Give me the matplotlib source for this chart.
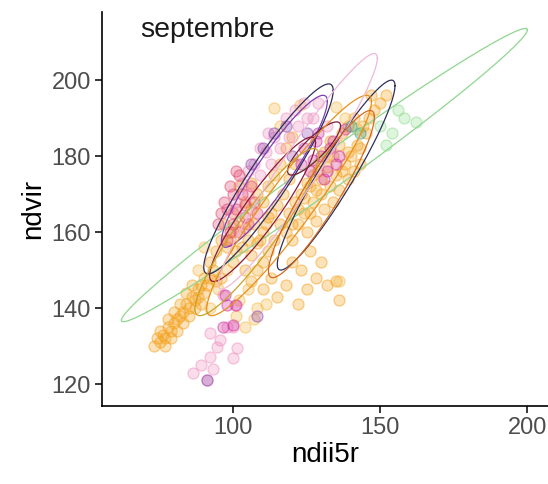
import numpy as np
import matplotlib.pyplot as plt
from matplotlib.colors import to_rgba

plt.rcParams['font.family'] = ['Liberation Sans', 'DejaVu Sans']

# points per group (ndii5r, ndvir)
orange_x = [75, 76, 77, 78, 79, 80, 81, 82, 83, 84, 85, 86, 87, 88, 89, 86, 90,
            73, 74, 75, 77, 78, 79, 80, 81, 82, 83, 84, 85, 87, 88, 89, 90, 91, 92, 93, 94,
            118, 120, 122, 124, 125, 127, 128, 130, 131, 133, 134, 135, 136, 138, 139,
            140, 142, 143, 145, 146, 148, 150, 152, 147, 126, 129, 132,
            119, 121, 123, 125, 127, 129, 131, 133, 120, 122, 124, 126, 128, 130, 132, 134,
            136, 137, 139, 141, 137, 139, 141, 143, 144,
            120, 123, 126, 128, 130, 132, 135, 136, 125, 122, 118, 115, 113, 110,
            92, 94, 96, 98, 100, 102, 104, 106, 108, 110, 112, 114, 116, 118, 120,
            104, 106, 108, 100, 96, 110, 112,
            116, 114, 112, 110, 108, 106, 117, 119, 121, 115, 113, 111, 109, 107, 105,
            103, 101, 99, 97, 102, 104, 106]
orange_y = [131, 133, 132, 135, 134, 136, 137, 138, 139, 141, 140, 143, 142, 145, 146, 146, 148,
            130, 132, 134, 130, 137, 132, 139, 134, 141, 136, 144, 138, 140, 143, 141, 144, 146, 148, 150, 147,
            160, 158, 162, 165, 160, 168, 163, 170, 166, 172, 168, 175, 171, 178, 174,
            180, 183, 178, 186, 190, 192, 194, 196, 196, 172, 176, 180,
            165, 168, 170, 173, 175, 178, 181, 184, 162, 166, 169, 165, 171, 174, 177, 180,
            183, 186, 188, 190, 176, 181, 176, 182, 188,
            152, 150, 155, 148, 152, 146, 147, 142, 145, 141, 146, 143, 148, 145,
            152, 155, 158, 156, 160, 163, 161, 166, 170, 168, 172, 175, 178, 182, 185,
            150, 154, 157, 152, 148, 160, 164,
            162, 158, 155, 152, 150, 147, 170, 174, 178, 167, 165, 162, 158, 162, 158,
            156, 155, 158, 162, 172, 168, 173]

yellow_x = [114, 122.7, 116, 135, 138, 142, 100, 98, 105, 102, 108, 95, 92, 88, 90, 101, 104, 107, 111, 136]
yellow_y = [192.6, 193.4, 188, 193, 190, 187, 165, 150, 145, 142, 140, 145, 140, 150, 156, 138, 135, 137, 141, 147]

pink_x = [86.4, 91.1, 92.1, 94.5, 95.5, 99.8, 101.3, 92.1, 97.9, 99.8, 96.6, 100.6, 89, 93,
          105, 109, 113, 116, 119, 122, 125, 100,
          103, 107, 111, 114, 118, 121, 124, 127, 129, 132, 101, 105, 109, 112]
pink_y = [122.9, 121.1, 127.1, 129.7, 131.6, 126.8, 129.5, 133.4, 135, 135, 143.4, 140.8, 125, 124,
          170, 175, 178, 182, 185, 188, 190, 165,
          173, 178, 181, 185, 190, 192, 194, 190, 194, 188, 168, 176, 182, 186]

magenta_x = [97.2, 97.9, 101, 96.5, 100, 123, 126, 130, 133, 128, 135, 131,
             124, 127, 129, 132, 134, 136, 138]
magenta_y = [143.4, 140.8, 140.8, 135, 135.5, 178, 176, 180, 182, 184, 178, 174,
             182, 179, 186, 176, 184, 180, 187]

red_x = [97, 99, 101, 103, 100, 104, 107, 95, 102, 98, 96, 98, 100, 102, 104, 106, 108, 99, 101, 105]
red_y = [168, 172, 166, 170, 162, 164, 168, 162, 175, 158, 165, 166, 170, 160, 167, 172, 165, 160, 176, 162]

purple_x = [108, 91, 110, 114, 118, 106, 120, 125]
purple_y = [138, 121, 182, 186, 188, 178, 180, 186]

green_x = [150, 154, 158, 162, 152, 156]
green_y = [188, 186, 190, 189, 183, 192]

teal_x = [140, 143]
teal_y = [188, 186]

groups = [
    (orange_x, orange_y, '#f5a01a'),
    (yellow_x, yellow_y, '#f5b841'),
    (pink_x, pink_y, '#ee8fbf'),
    (red_x, red_y, '#e2456f'),
    (magenta_x, magenta_y, '#cf2ba0'),
    (purple_x, purple_y, '#8e44ad'),
    (green_x, green_y, '#8fdc8f'),
    (teal_x, teal_y, '#2a9d8f'),
]

# ellipses: centre, half extents and correlation
ell_cx = [131, 135, 112, 114, 127.5, 110, 119, 108, 122, 130]
ell_cy = [175, 175, 174, 176, 182, 166, 167, 160, 176, 170]
ell_ax = [69, 20, 22, 18, 9, 18, 28, 21, 27, 18]
ell_ay = [38.6, 25, 25, 20, 7, 19, 29, 22, 31, 22]
ell_rho = [0.99, 0.94, 0.93, 0.92, 0.85, 0.92, 0.94, 0.92, 0.96, 0.92]
ell_col = ['#8fd68f', '#2e2f5e', '#2e2f5e', '#7b3fb5', '#7a1f3a', '#8b1a3a',
           '#e8901a', '#c9a227', '#f0b8d8', '#d2691e']

fig = plt.figure(figsize=(5.48, 4.84), dpi=100)
ax = fig.add_axes([0.186, 0.161, 0.814, 0.814])

for xs, ys, c in groups:
    ax.scatter(xs, ys, s=63, facecolor=to_rgba(c, 0.3), edgecolor=to_rgba(c, 0.5),
               linewidths=0.9, zorder=2)

t = np.linspace(0, 2 * np.pi, 200)
for cx, cy, a, b, r, c in zip(ell_cx, ell_cy, ell_ax, ell_ay, ell_rho, ell_col):
    ex = cx + a * np.cos(t)
    ey = cy + b * (r * np.cos(t) + np.sqrt(1 - r ** 2) * np.sin(t))
    ax.plot(ex, ey, color=c, lw=0.9, zorder=3)

ax.set_xlim(55.4, 207)
ax.set_ylim(114.2, 217.9)
ax.set_xticks([100, 150, 200])
ax.set_yticks([120, 140, 160, 180, 200])
ax.spines['top'].set_visible(False)
ax.spines['right'].set_visible(False)
for sp in ['left', 'bottom']:
    ax.spines[sp].set_linewidth(1.2)
ax.tick_params(labelsize=17, colors='#4d4d4d', length=5, width=1.1, pad=3)
ax.tick_params(color='black')
ax.set_xlabel('ndii5r', fontsize=20, labelpad=2)
ax.set_ylabel('ndvir', fontsize=20, labelpad=4)
ax.text(0.085, 0.955, 'septembre', transform=ax.transAxes, fontsize=20.5,
        va='center', ha='left', color='#1a1a1a')

fig.savefig('out.png', dpi=100)
